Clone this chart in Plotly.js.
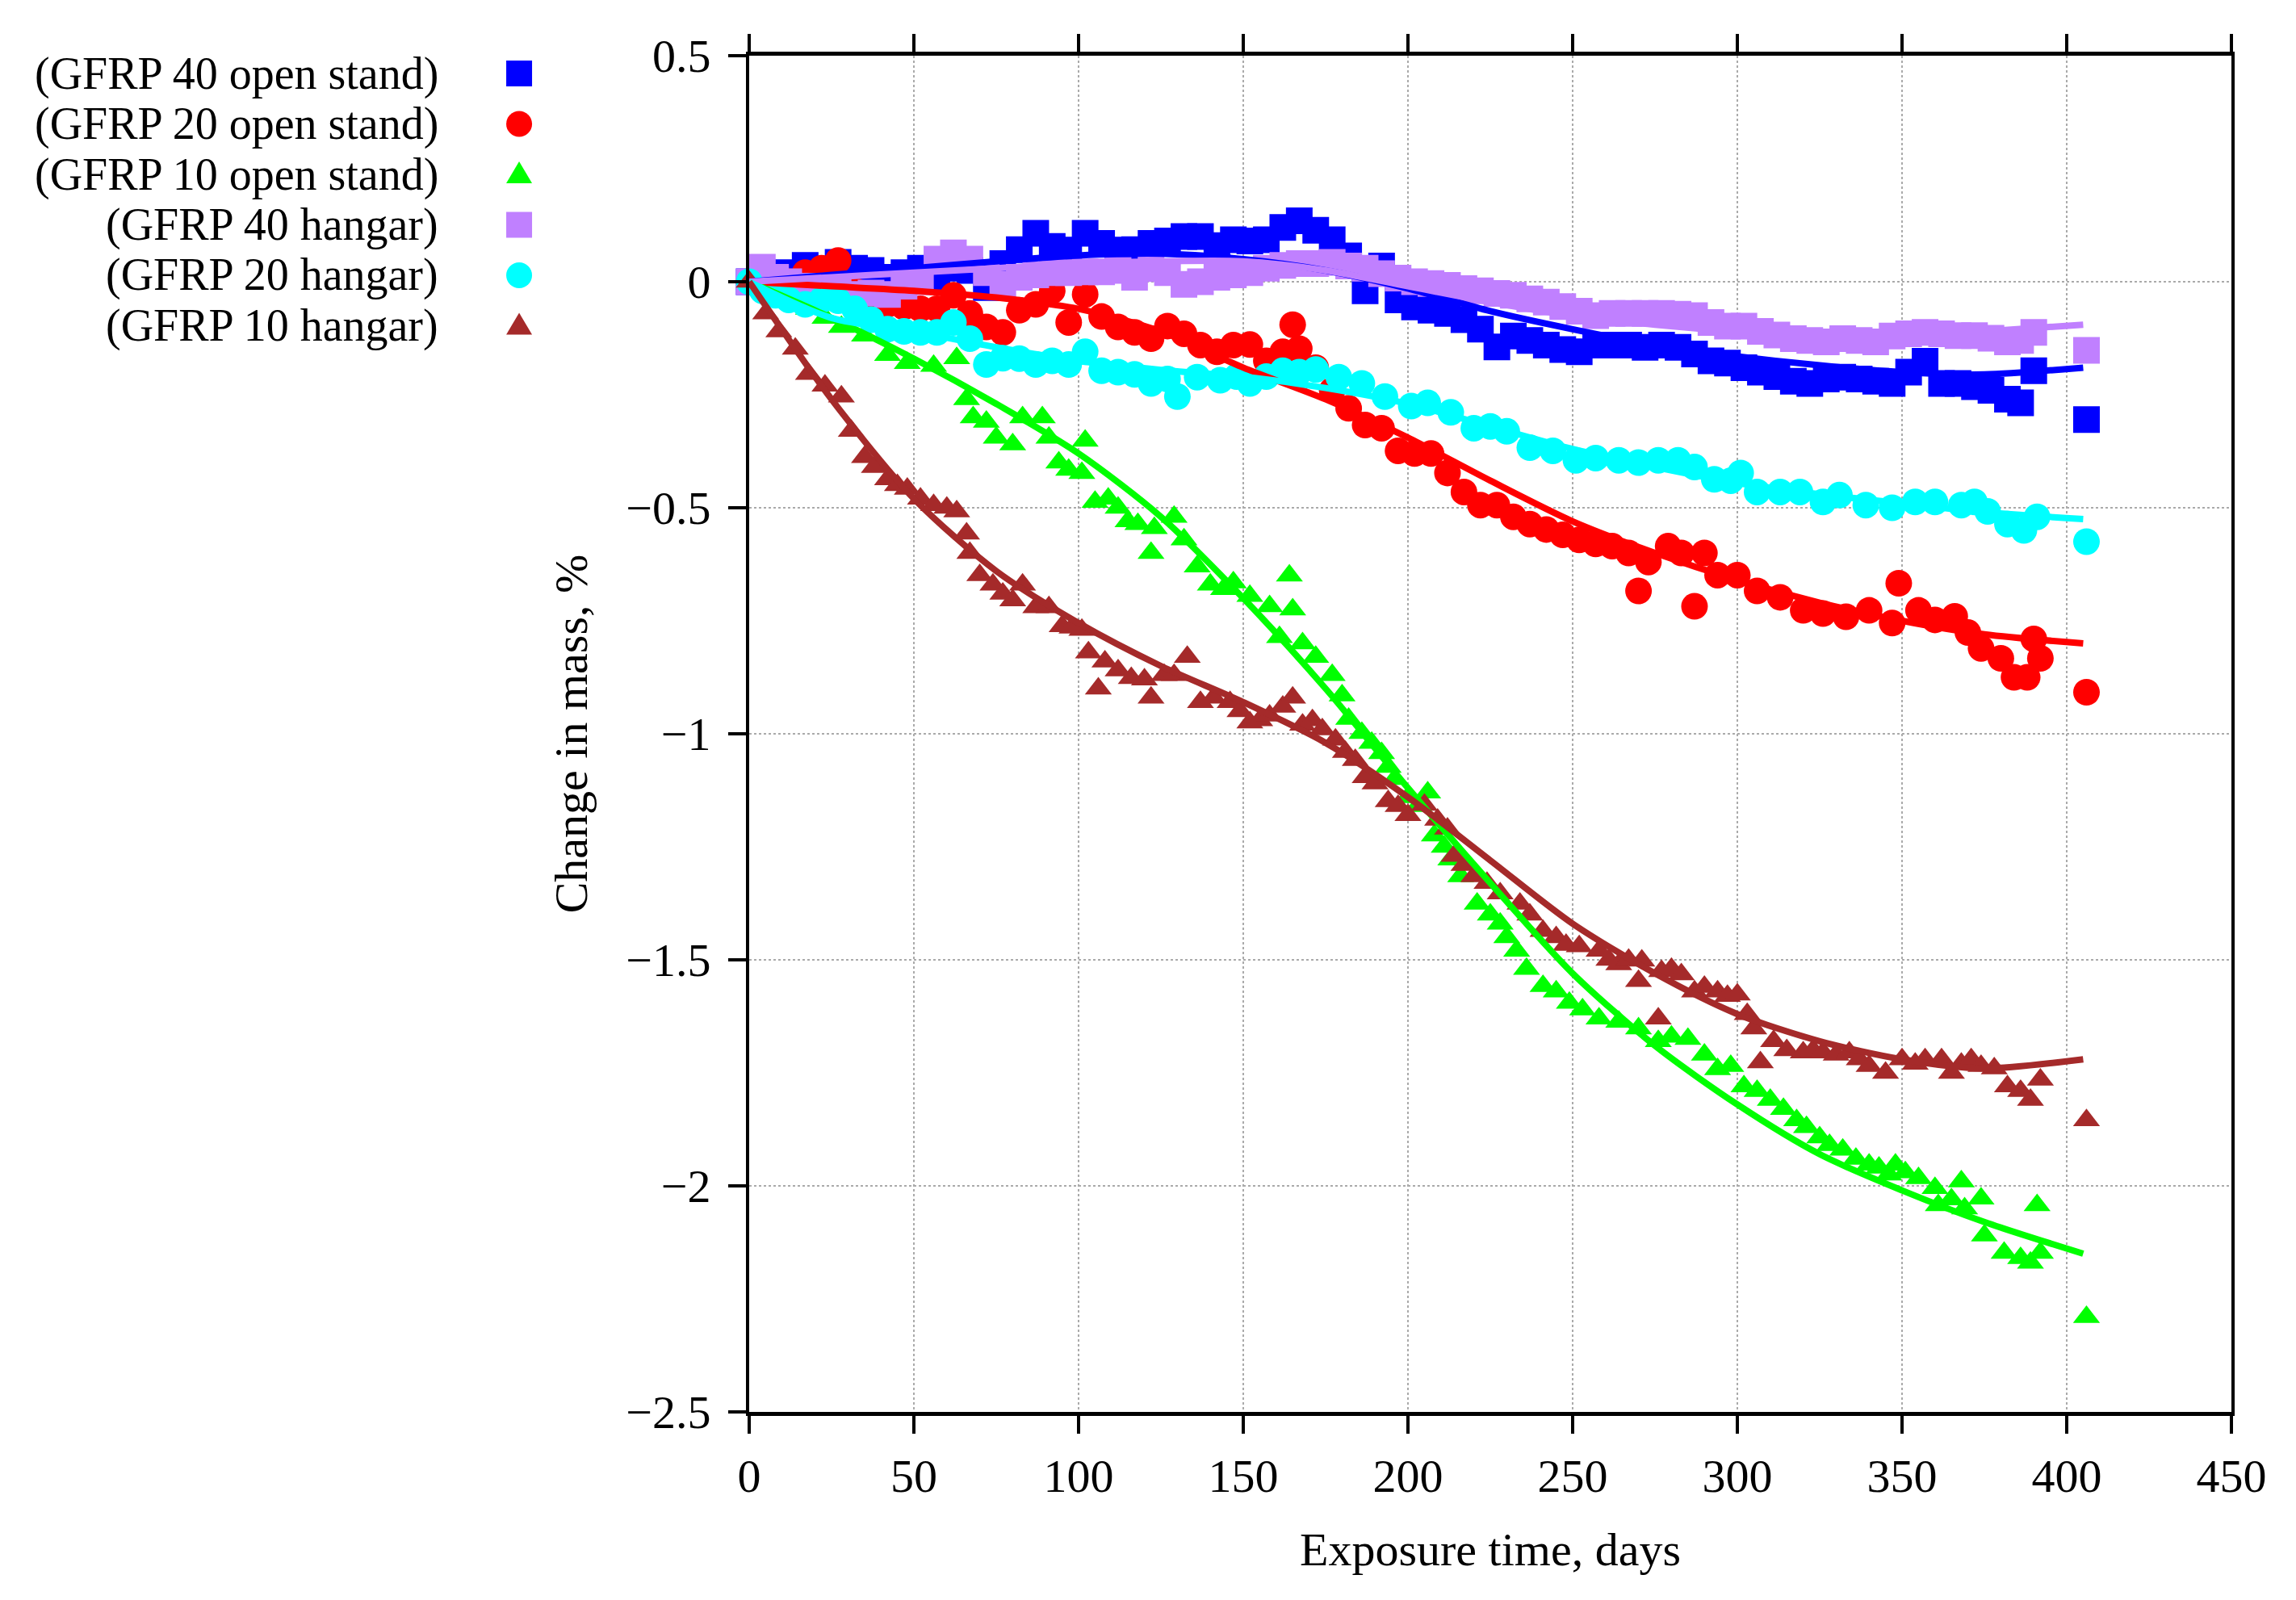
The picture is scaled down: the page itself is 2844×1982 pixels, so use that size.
<!DOCTYPE html>
<html>
<head>
<meta charset="utf-8">
<script src="https://cdn.plot.ly/plotly-3.0.1.min.js"></script>
<style>
  html, body { margin: 0; padding: 0; background: #fff; }
  #chart { width: 2844px; height: 1982px; }
</style>
</head>
<body>
<div id="chart"></div>
<script>
// measured points, change in mass (%) against exposure time (days)
const open40Days = [0,4,8,12,17,22,27,32,37,42,47,52,57,62,67,72,77,82,87,92,97,102,107,112,117,122,127,132,137,142,147,152,157,162,167,172,177,182,187,192,197,202,207,212,217,222,227,232,237,242,247,252,257,262,267,272,277,282,287,292,297,302,307,312,317,322,327,332,337,342,347,352,357,362,367,372,377,382,386,390,406];
const open40Mass = [0,0.02,0.015,0.02,0.036,0.02,0.043,0.03,0.025,0.01,0.02,0.03,0.011,0.03,0.025,-0.013,0.04,0.071,0.107,0.078,0.07,0.107,0.085,0.07,0.071,0.085,0.09,0.1,0.1,0.08,0.093,0.09,0.093,0.12,0.135,0.114,0.093,0.057,-0.02,0.035,-0.04,-0.056,-0.063,-0.07,-0.084,-0.105,-0.144,-0.12,-0.13,-0.14,-0.15,-0.155,-0.14,-0.14,-0.14,-0.145,-0.14,-0.145,-0.16,-0.175,-0.18,-0.19,-0.2,-0.21,-0.22,-0.225,-0.215,-0.211,-0.215,-0.22,-0.225,-0.2,-0.176,-0.225,-0.225,-0.232,-0.24,-0.26,-0.268,-0.197,-0.305];

const open20Days = [0,4,8,12,17,22,27,32,37,42,47,52,57,62,67,72,77,82,87,92,97,102,107,112,117,122,127,132,137,142,147,152,157,162,165,167,172,177,182,187,192,197,202,207,212,217,222,227,232,237,242,247,252,257,262,267,270,273,279,283,287,290,294,300,306,313,320,326,333,340,347,349,355,360,366,370,374,380,384,388,390,392,406];
const open20Mass = [0,-0.01,-0.015,0,0.02,0.03,0.047,-0.02,-0.035,-0.05,-0.056,-0.06,-0.06,-0.03,-0.07,-0.1,-0.112,-0.063,-0.05,-0.02,-0.09,-0.028,-0.077,-0.1,-0.112,-0.126,-0.098,-0.115,-0.14,-0.155,-0.14,-0.139,-0.175,-0.155,-0.095,-0.148,-0.19,-0.24,-0.28,-0.317,-0.324,-0.374,-0.38,-0.38,-0.423,-0.465,-0.494,-0.494,-0.52,-0.536,-0.548,-0.56,-0.571,-0.58,-0.585,-0.6,-0.684,-0.62,-0.585,-0.6,-0.718,-0.6,-0.649,-0.649,-0.684,-0.698,-0.727,-0.734,-0.741,-0.727,-0.755,-0.667,-0.727,-0.748,-0.74,-0.776,-0.811,-0.833,-0.875,-0.875,-0.79,-0.833,-0.908];

const open10Days = [0,3,8,13,18,23,28,35,42,48,56,63,66,68,72,75,80,83,89,91,94,97,101,102,105,109,112,115,118,122,123,129,132,136,140,144,147,152,158,161,164,165,168,172,177,180,182,186,189,192,194,196,200,203,206,208,211,213,216,221,225,228,230,233,236,241,245,249,253,258,264,270,276,280,285,290,294,298,302,306,310,314,318,321,325,328,332,336,340,343,346,348,351,355,360,361,365,368,369,374,375,381,386,389,391,392,406];
const open10Mass = [0,-0.01,-0.03,-0.045,-0.06,-0.08,-0.1,-0.119,-0.162,-0.18,-0.186,-0.169,-0.26,-0.3,-0.31,-0.345,-0.36,-0.3,-0.3,-0.345,-0.4,-0.416,-0.423,-0.352,-0.487,-0.48,-0.5,-0.53,-0.536,-0.6,-0.545,-0.52,-0.57,-0.63,-0.67,-0.68,-0.665,-0.695,-0.718,-0.786,-0.65,-0.725,-0.8,-0.83,-0.87,-0.915,-0.967,-0.998,-1.02,-1.043,-1.073,-1.1,-1.14,-1.16,-1.13,-1.225,-1.25,-1.278,-1.315,-1.376,-1.4,-1.42,-1.45,-1.48,-1.52,-1.558,-1.57,-1.595,-1.61,-1.63,-1.637,-1.652,-1.68,-1.67,-1.675,-1.71,-1.742,-1.735,-1.78,-1.79,-1.81,-1.83,-1.855,-1.87,-1.893,-1.91,-1.92,-1.94,-1.953,-1.96,-1.975,-1.953,-1.97,-1.983,-2.005,-2.043,-2.03,-1.99,-2.05,-2.028,-2.11,-2.148,-2.16,-2.17,-2.043,-2.148,-2.29];

const hangar40Days = [0,4,8,12,17,22,27,32,37,42,47,52,57,62,67,72,77,82,87,92,97,102,107,112,117,122,127,132,137,142,147,152,157,162,167,172,177,182,187,192,197,202,207,212,217,222,227,232,237,242,247,252,257,262,267,272,277,282,287,292,297,302,307,312,317,322,327,332,337,342,347,352,357,362,367,372,377,382,386,390,406];
const hangar40Mass = [0,0.032,0.01,0,-0.01,-0.02,-0.02,-0.028,-0.025,-0.028,-0.01,0,0.05,0.064,0.05,0.02,-0.006,0.01,0.015,0.02,0.02,0.022,0.022,0.025,0.01,0.029,0.02,-0.006,0,0.01,0.015,0.02,0.03,0.036,0.04,0.04,0.043,0.035,0.03,0.018,0.008,0,-0.004,-0.008,-0.015,-0.02,-0.026,-0.03,-0.038,-0.045,-0.055,-0.065,-0.075,-0.07,-0.07,-0.07,-0.07,-0.072,-0.075,-0.09,-0.098,-0.098,-0.11,-0.118,-0.126,-0.13,-0.133,-0.126,-0.13,-0.133,-0.12,-0.115,-0.112,-0.115,-0.119,-0.119,-0.125,-0.133,-0.13,-0.112,-0.152];

const hangar20Days = [0,4,8,12,17,22,27,32,37,42,47,52,57,62,67,72,77,82,87,92,97,102,107,112,117,122,127,130,136,143,148,152,157,162,167,172,179,186,193,201,206,213,220,225,230,237,244,251,257,264,270,276,282,287,293,298,301,306,313,319,326,331,339,347,354,360,368,372,376,382,387,391,406];
const hangar20Mass = [0,-0.02,-0.03,-0.04,-0.05,-0.04,-0.042,-0.06,-0.084,-0.105,-0.11,-0.112,-0.112,-0.09,-0.126,-0.183,-0.169,-0.17,-0.183,-0.175,-0.183,-0.155,-0.197,-0.2,-0.205,-0.225,-0.215,-0.254,-0.211,-0.218,-0.21,-0.225,-0.21,-0.197,-0.2,-0.194,-0.211,-0.225,-0.254,-0.275,-0.268,-0.289,-0.324,-0.32,-0.331,-0.367,-0.374,-0.395,-0.39,-0.395,-0.4,-0.395,-0.395,-0.41,-0.437,-0.44,-0.423,-0.465,-0.465,-0.465,-0.487,-0.472,-0.494,-0.5,-0.487,-0.487,-0.494,-0.487,-0.508,-0.536,-0.55,-0.52,-0.575];

const hangar10Days = [0,5,9,14,18,23,28,31,35,38,42,45,48,52,56,60,63,66,67,70,74,77,80,83,87,91,95,98,101,103,106,108,112,116,120,122,126,129,133,137,141,146,149,152,155,158,162,165,168,171,174,178,181,184,187,190,194,197,200,205,209,212,214,217,220,224,228,234,237,241,245,248,252,258,261,264,267,270,271,276,277,280,283,287,290,294,297,300,303,305,307,311,315,320,323,326,330,334,337,340,345,350,354,357,362,365,368,371,374,378,382,386,389,392,406];
const hangar10Mass = [0,-0.07,-0.11,-0.148,-0.204,-0.23,-0.254,-0.33,-0.388,-0.41,-0.437,-0.45,-0.458,-0.48,-0.494,-0.5,-0.508,-0.557,-0.6,-0.649,-0.67,-0.69,-0.705,-0.67,-0.72,-0.72,-0.762,-0.765,-0.77,-0.82,-0.9,-0.84,-0.86,-0.877,-0.88,-0.92,-0.87,-0.87,-0.83,-0.93,-0.92,-0.93,-0.95,-0.975,-0.97,-0.96,-0.94,-0.92,-0.98,-0.97,-0.99,-1.013,-1.04,-1.058,-1.096,-1.11,-1.149,-1.16,-1.18,-1.157,-1.19,-1.21,-1.27,-1.29,-1.315,-1.33,-1.353,-1.376,-1.4,-1.436,-1.45,-1.467,-1.47,-1.48,-1.5,-1.51,-1.5,-1.547,-1.502,-1.63,-1.525,-1.52,-1.532,-1.57,-1.56,-1.57,-1.58,-1.577,-1.62,-1.652,-1.727,-1.68,-1.7,-1.705,-1.7,-1.705,-1.71,-1.705,-1.72,-1.735,-1.75,-1.72,-1.73,-1.72,-1.72,-1.75,-1.73,-1.72,-1.735,-1.74,-1.78,-1.79,-1.81,-1.765,-1.855];

// fitted curves
const fitDays = [0,25,50,75,100,125,150,175,200,225,250,275,300,325,350,375,405];
const open40Fit = [0,0.015,0.03,0.045,0.058,0.062,0.05,0.025,-0.015,-0.065,-0.105,-0.14,-0.165,-0.185,-0.2,-0.205,-0.19];
const open20Fit = [0,-0.01,-0.02,-0.035,-0.06,-0.11,-0.19,-0.26,-0.345,-0.44,-0.53,-0.6,-0.66,-0.71,-0.75,-0.78,-0.8];
const open10Fit = [0,-0.08,-0.17,-0.27,-0.38,-0.52,-0.7,-0.9,-1.12,-1.33,-1.53,-1.69,-1.82,-1.93,-2.01,-2.08,-2.15];
const hangar40Fit = [0,0.01,0.02,0.03,0.04,0.045,0.045,0.025,-0.01,-0.045,-0.075,-0.095,-0.11,-0.12,-0.12,-0.11,-0.095];
const hangar20Fit = [0,-0.08,-0.11,-0.145,-0.175,-0.195,-0.21,-0.235,-0.27,-0.32,-0.37,-0.41,-0.445,-0.47,-0.49,-0.51,-0.525];
const hangar10Fit = [0,-0.26,-0.48,-0.64,-0.755,-0.85,-0.93,-1.02,-1.14,-1.28,-1.42,-1.53,-1.62,-1.68,-1.72,-1.74,-1.72];

const xTicks = [0,50,100,150,200,250,300,350,400,450];
const yTicks = [0.5,0,-0.5,-1,-1.5,-2,-2.5];

const series = [
  { name: '(GFRP 40 open stand)', days: open40Days, mass: open40Mass, fit: open40Fit, color: '#0000ff', symbol: 'square', size: 33 },
  { name: '(GFRP 20 open stand)', days: open20Days, mass: open20Mass, fit: open20Fit, color: '#ff0000', symbol: 'circle', size: 33 },
  { name: '(GFRP 10 open stand)', days: open10Days, mass: open10Mass, fit: open10Fit, color: '#00ff00', symbol: 'triangle-up', size: 29 },
  { name: '(GFRP 40 hangar)', days: hangar40Days, mass: hangar40Mass, fit: hangar40Fit, color: '#c080ff', symbol: 'square', size: 33 },
  { name: '(GFRP 20 hangar)', days: hangar20Days, mass: hangar20Mass, fit: hangar20Fit, color: '#00ffff', symbol: 'circle', size: 33 },
  { name: '(GFRP 10 hangar)', days: hangar10Days, mass: hangar10Mass, fit: hangar10Fit, color: '#a52a2a', symbol: 'triangle-up', size: 29 },
];

const font = { family: 'Liberation Serif, Times New Roman, serif', size: 58, color: '#000' };
const keyFont = { family: 'Liberation Serif, Times New Roman, serif', size: 56, color: '#000' };

const pointTraces = series.map((s) => ({
  x: s.days,
  y: s.mass,
  name: s.name,
  mode: 'markers',
  marker: { symbol: s.symbol, size: s.size, color: s.color, line: { width: 0 } },
  cliponaxis: false,
}));

const fitTraces = series.map((s) => ({
  x: fitDays,
  y: s.fit,
  name: s.name + ' fit',
  mode: 'lines',
  line: { color: s.color, width: 8, shape: 'spline', smoothing: 0.8 },
}));

// key on the left: text right-aligned, marker to the right of it
const keyRows = [0.9869, 0.9497, 0.9125, 0.8753, 0.8381, 0.8009];
const keyTextX = -0.2086;
const keyMarkX = -0.1552;

const annotations = series.map((s, i) => ({
  xref: 'paper', yref: 'paper',
  x: keyTextX, y: keyRows[i],
  xanchor: 'right', yanchor: 'middle',
  text: s.name, showarrow: false, font: keyFont,
}));

const shapes = series.map((s, i) => {
  const base = {
    xref: 'paper', yref: 'paper',
    xsizemode: 'pixel', ysizemode: 'pixel',
    xanchor: keyMarkX, yanchor: keyRows[i],
    fillcolor: s.color, line: { width: 0 },
  };
  if (s.symbol === 'square') return { ...base, type: 'rect', x0: -16, x1: 16, y0: -16, y1: 16 };
  if (s.symbol === 'circle') return { ...base, type: 'circle', x0: -16, x1: 16, y0: -16, y1: 16 };
  return { ...base, type: 'path', path: 'M -16 -11 L 16 -11 L 0 16 Z' };
});

const layout = {
  width: 2844,
  height: 1982,
  margin: { l: 928, r: 80, t: 69, b: 233 },
  paper_bgcolor: '#fff',
  plot_bgcolor: '#fff',
  font: font,
  showlegend: false,
  xaxis: {
    range: [0, 450],
    tickvals: xTicks,
    ticks: 'outside', ticklen: 22, tickwidth: 4, tickcolor: '#000',
    showline: true, linewidth: 5, linecolor: '#000', mirror: 'ticks',
    showgrid: true, gridcolor: '#aaa', griddash: 'dot', gridwidth: 2,
    zeroline: false,
    ticklabelstandoff: 2,
    title: { text: 'Exposure time, days', font: font, standoff: 40 },
  },
  yaxis: {
    range: [-2.5, 0.5],
    tickvals: yTicks,
    ticks: 'outside', ticklen: 22, tickwidth: 4, tickcolor: '#000',
    showline: true, linewidth: 4, linecolor: '#000', mirror: true,
    showgrid: true, gridcolor: '#aaa', griddash: 'dot', gridwidth: 2,
    zeroline: false,
    ticklabelstandoff: 10,
    title: { text: 'Change in mass, %', font: font, standoff: 30 },
  },
  annotations: annotations,
  shapes: shapes,
};

const config = { responsive: false, displayModeBar: false, staticPlot: true };

Plotly.newPlot('chart', [...pointTraces, ...fitTraces], layout, config);
</script>
</body>
</html>
